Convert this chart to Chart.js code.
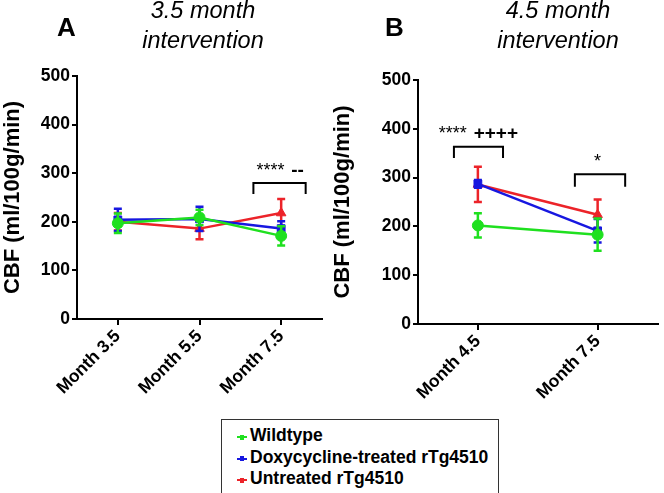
<!DOCTYPE html>
<html lang="en">
<head>
    <meta charset="UTF-8">
    <title>CBF after 3.5 and 4.5 month intervention</title>
    <style>
        body {
            margin: 0;
            width: 664px;
            height: 493px;
            background: #ffffff;
            font-family: Arial, "Liberation Sans", sans-serif;
            color: #000;
            position: relative;
            overflow: hidden;
        }
        canvas { position: absolute; top: 0; }
        .letter {
            position: absolute;
            top: 14px;
            font-weight: bold;
            font-size: 26px;
            line-height: 26px;
        }
        .title {
            position: absolute;
            top: -5px;
            width: 200px;
            font-style: italic;
            font-size: 23.5px;
            line-height: 30px;
            text-align: center;
        }
        .legend {
            position: absolute;
            left: 221px;
            top: 419px;
            width: 276px;
            height: 69px;
            border: 1.5px solid #333;
            padding: 5px 0 0 0;
        }
        .legend-item {
            font-weight: bold;
            font-size: 17.5px;
            line-height: 21.5px;
            white-space: nowrap;
            position: relative;
            padding-left: 28px;
        }
        .legend-item .sw {
            position: absolute;
            left: 15px;
            top: 11px;
            width: 10px;
            height: 2px;
        }
        .legend-item .sw::after {
            content: "";
            position: absolute;
            left: 3px;
            top: -1.5px;
            width: 4px;
            height: 5px;
            background: inherit;
        }
    </style>
    <script src="https://cdn.jsdelivr.net/npm/chart.js"></script>
</head>
<body>
    <canvas id="chartA" width="330" height="415" style="left:0"></canvas>
    <canvas id="chartB" width="334" height="415" style="left:330px"></canvas>

    <div class="letter" style="left:57px">A</div>
    <div class="title" style="left:103px">3.5 month<br>intervention</div>
    <div class="letter" style="left:385px">B</div>
    <div class="title" style="left:458px">4.5 month<br>intervention</div>

    <div class="legend" id="legend"></div>

    <script>
        // Grupos e cores
        const groupNames = ['Wildtype', 'Doxycycline-treated rTg4510', 'Untreated rTg4510'];
        const groupColors = ['#1fe01f', '#1717e0', '#ec2329'];
        const groupShapes = ['circle', 'rect', 'triangle'];

        // Painel A: 3.5 month intervention
        const monthsA = ['Month 3.5', 'Month 5.5', 'Month 7.5'];
        const wildA = [197, 209, 171];
        const wildAErr = [20, 16, 20];
        const doxyA = [204, 206, 186];
        const doxyAErr = [23, 25, 15];
        const untrA = [200, 186, 218];
        const untrAErr = [18, 22, 29];

        // Painel B: 4.5 month intervention
        const monthsB = ['Month 4.5', 'Month 7.5'];
        const wildB = [202, 183];
        const wildBErr = [25, 33];
        const doxyB = [287, 191];
        const doxyBErr = [8, 24];
        const untrB = [286, 224];
        const untrBErr = [36, 31];

        // Escala do eixo Y
        const yMin = 0;
        const yMax = 500;
        const yStep = 100;
        const yTitle = 'CBF (ml/100g/min)';

        // Marcas de significância (x em índice de categoria, y em unidades CBF)
        const bracketsA = [{ from: 1.66, to: 2.3, top: 280, leg: 257 }];
        const labelsA = [
            { text: '****', x: 1.87, y: 294, bold: false },
            { text: '--', x: 2.2, y: 294, bold: true }
        ];
        const bracketsB = [
            { from: -0.2, to: 0.21, top: 363, leg: 340 },
            { from: 0.81, to: 1.23, top: 307, leg: 281 }
        ];
        const labelsB = [
            { text: '****', x: -0.21, y: 379, bold: false },
            { text: '++++', x: 0.15, y: 379, bold: true },
            { text: '*', x: 1.0, y: 322, bold: false }
        ];

        const fontFamily = 'Arial, "Liberation Sans", sans-serif';

        // Barras de erro (SEM) desenhadas depois de cada série
        const errorBars = {
            id: 'errorBars',
            afterDatasetDraw(chart, args) {
                const ds = chart.data.datasets[args.index];
                if (!ds.errors) return;
                const ctx = chart.ctx;
                const y = chart.scales.y;
                ctx.save();
                ctx.strokeStyle = ds.borderColor;
                ctx.lineWidth = 2.5;
                args.meta.data.forEach((pt, i) => {
                    const v = ds.data[i];
                    const e = ds.errors[i];
                    const top = y.getPixelForValue(v + e);
                    const bot = y.getPixelForValue(v - e);
                    ctx.beginPath();
                    ctx.moveTo(pt.x, top);
                    ctx.lineTo(pt.x, bot);
                    ctx.moveTo(pt.x - 4, top);
                    ctx.lineTo(pt.x + 4, top);
                    ctx.moveTo(pt.x - 4, bot);
                    ctx.lineTo(pt.x + 4, bot);
                    ctx.stroke();
                });
                ctx.restore();
            }
        };

        // Colchetes e asteriscos
        const brackets = {
            id: 'brackets',
            afterDraw(chart, args, opts) {
                const ctx = chart.ctx;
                const xs = chart.scales.x;
                const ys = chart.scales.y;
                ctx.save();
                ctx.strokeStyle = '#000';
                ctx.lineWidth = 2;
                (opts.items || []).forEach(b => {
                    const x1 = xs.getPixelForValue(b.from);
                    const x2 = xs.getPixelForValue(b.to);
                    const yt = ys.getPixelForValue(b.top);
                    const yl = ys.getPixelForValue(b.leg);
                    ctx.beginPath();
                    ctx.moveTo(x1, yl);
                    ctx.lineTo(x1, yt);
                    ctx.lineTo(x2, yt);
                    ctx.lineTo(x2, yl);
                    ctx.stroke();
                });
                ctx.fillStyle = '#000';
                ctx.textAlign = 'center';
                ctx.textBaseline = 'alphabetic';
                (opts.labels || []).forEach(t => {
                    ctx.font = (t.bold ? 'bold 19px ' : '18px ') + fontFamily;
                    ctx.fillText(t.text, xs.getPixelForValue(t.x), ys.getPixelForValue(t.y));
                });
                ctx.restore();
            }
        };

        function makeDatasets(series, errors) {
            return series.map((data, i) => ({
                label: groupNames[i],
                data: data,
                errors: errors[i],
                borderColor: groupColors[i],
                backgroundColor: groupColors[i],
                borderWidth: 2.5,
                pointStyle: groupShapes[i],
                pointRadius: 5.5,
                pointBorderWidth: 1,
                tension: 0
            }));
        }

        function makeOptions(yWidth, xHeight, padTop, padRight, items, labels) {
            const tickFont = { family: fontFamily, size: 17.5, weight: 'bold' };
            return {
                responsive: false,
                animation: false,
                layout: { padding: { top: padTop, right: padRight, left: 0, bottom: 0 } },
                plugins: {
                    legend: { display: false },
                    tooltip: { enabled: false },
                    brackets: { items: items, labels: labels }
                },
                scales: {
                    x: {
                        type: 'category',
                        offset: true,
                        grid: { drawOnChartArea: false, drawTicks: true, tickLength: 6, color: '#000', lineWidth: 2 },
                        border: { display: true, color: '#000', width: 2 },
                        ticks: { color: '#000', font: tickFont, minRotation: 45, maxRotation: 45, padding: 1 },
                        afterFit: s => { s.height = xHeight; }
                    },
                    y: {
                        min: yMin,
                        max: yMax,
                        grid: { drawOnChartArea: false, drawTicks: true, tickLength: 5, color: '#000', lineWidth: 2 },
                        border: { display: true, color: '#000', width: 2 },
                        ticks: { stepSize: yStep, color: '#000', font: tickFont, padding: 2 },
                        title: {
                            display: true,
                            text: yTitle,
                            color: '#000',
                            font: { family: fontFamily, size: 22, weight: 'bold' },
                            padding: { top: 0, bottom: 0 }
                        },
                        afterFit: s => { s.width = yWidth; }
                    }
                }
            };
        }

        new Chart(document.getElementById('chartA'), {
            type: 'line',
            data: {
                labels: monthsA,
                datasets: makeDatasets([wildA, doxyA, untrA], [wildAErr, doxyAErr, untrAErr])
            },
            options: makeOptions(77, 96, 76, 8, bracketsA, labelsA),
            plugins: [errorBars, brackets]
        });

        new Chart(document.getElementById('chartB'), {
            type: 'line',
            data: {
                labels: monthsB,
                datasets: makeDatasets([wildB, doxyB, untrB], [wildBErr, doxyBErr, untrBErr])
            },
            options: makeOptions(88, 91, 80, 3, bracketsB, labelsB),
            plugins: [errorBars, brackets]
        });

        // Legenda em HTML
        const legend = document.getElementById('legend');
        groupNames.forEach((name, i) => {
            const item = document.createElement('div');
            item.className = 'legend-item';
            item.innerHTML = `<span class="sw" style="background:${groupColors[i]}"></span>${name}`;
            legend.appendChild(item);
        });
    </script>
</body>
</html>
